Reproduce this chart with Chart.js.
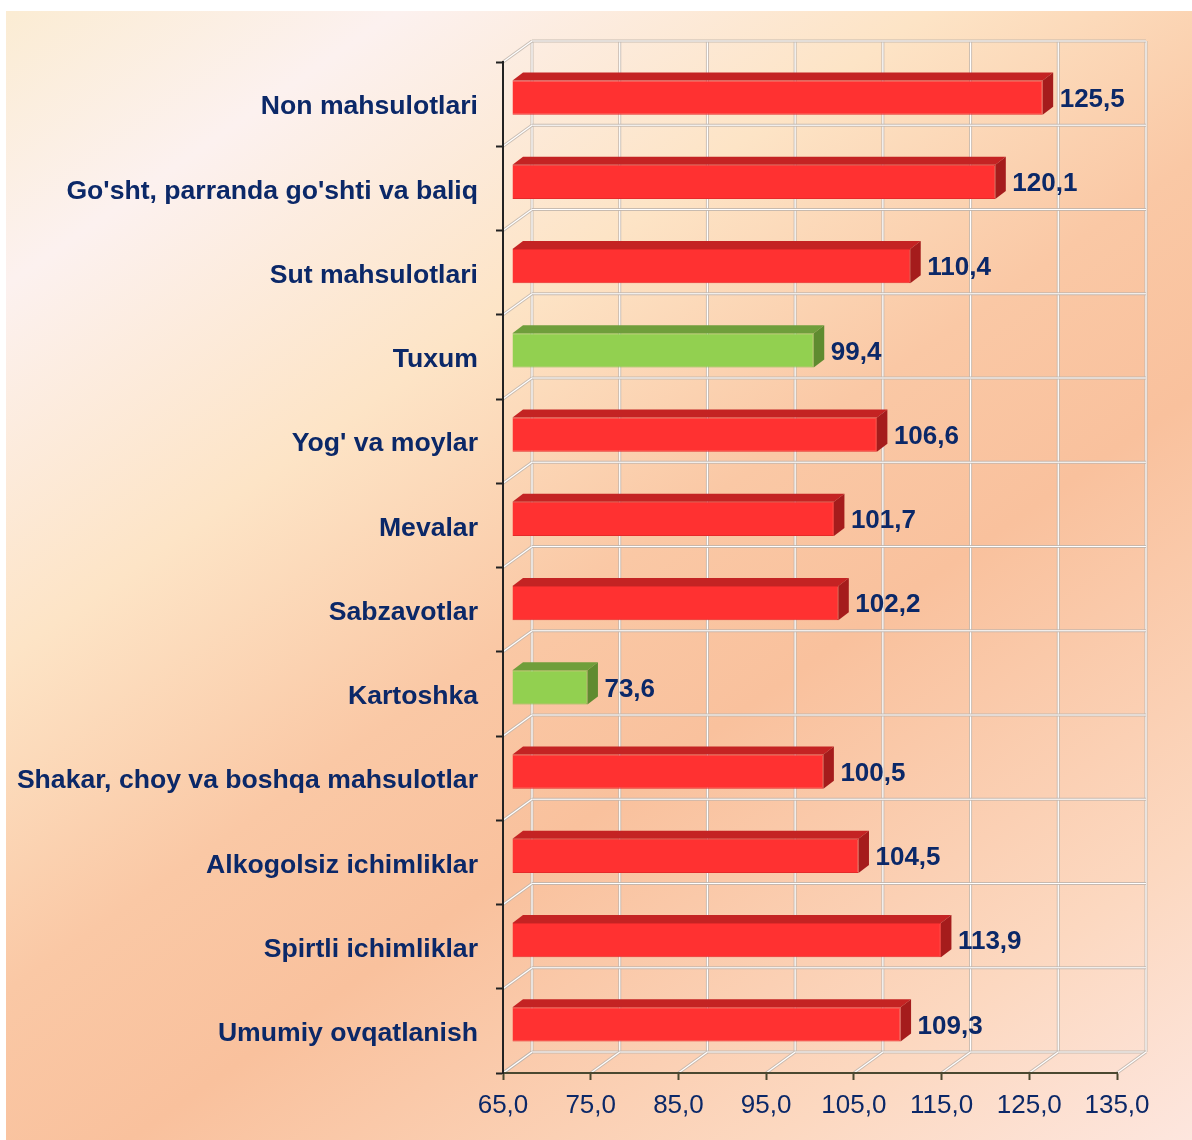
<!DOCTYPE html>
<html><head><meta charset="utf-8">
<script src="https://cdn.jsdelivr.net/npm/chart.js@4.4.0/dist/chart.umd.min.js"></script>
<style>html,body{margin:0;padding:0;background:#fff;}#wrap{width:1192px;height:1140px;position:relative;}canvas{display:block;}</style>
</head><body><div id="wrap"><canvas id="c" width="1192" height="1140" style="width:1192px;height:1140px"></canvas></div>
<script>
const categories = ["Non mahsulotlari","Go'sht, parranda go'shti va baliq","Sut mahsulotlari","Tuxum","Yog' va moylar","Mevalar","Sabzavotlar","Kartoshka","Shakar, choy va boshqa mahsulotlar","Alkogolsiz ichimliklar","Spirtli ichimliklar","Umumiy ovqatlanish"];
const values = [125.5,120.1,110.4,99.4,106.6,101.7,102.2,73.6,100.5,104.5,113.9,109.3];
const axisMin = 65, axisMax = 135, axisStep = 10;
const threshold = 100;

const NAVY = '#0b2868';
const FONT = "'Liberation Sans', Arial, sans-serif";
const FRONT = {dx: 9, dy: -6.5};
const BAR_DEPTH = {dx: 10.5, dy: -8};
const WALL = {dx: 29, dy: -21};
const RED = {front: '#ff3131', top: '#c42323', side: '#a51c1c', border: '#e52a2a'};
const GREEN = {front: '#92d050', top: '#6f9e3b', side: '#5f8b30', border: '#80bb45'};
const pal = v => v < threshold ? GREEN : RED;
const fmt = v => Number(v).toFixed(1).replace('.', ',');

function gridLine(ctx, x1, y1, x2, y2) {
  ctx.beginPath(); ctx.moveTo(x1, y1); ctx.lineTo(x2, y2);
  ctx.strokeStyle = 'rgba(190,180,172,0.85)'; ctx.lineWidth = 3; ctx.stroke();
  ctx.beginPath(); ctx.moveTo(x1, y1); ctx.lineTo(x2, y2);
  ctx.strokeStyle = '#ffffff'; ctx.lineWidth = 1.2; ctx.stroke();
}

const plugin3d = {
  id: 'plugin3d',
  beforeDraw(chart) {
    const ctx = chart.ctx, W = chart.width, H = chart.height;
    ctx.save();
    ctx.fillStyle = '#ffffff'; ctx.fillRect(0, 0, W, H);
    const x0 = 6, y0 = 11, bw = W - x0, bh = H - y0;
    const th = 55 * Math.PI / 180;
    const L = bw * Math.cos(th) + bh * Math.sin(th);
    const g = ctx.createLinearGradient(x0, y0, x0 + L * Math.cos(th), y0 + L * Math.sin(th));
    g.addColorStop(0, '#fbecd3');
    g.addColorStop(0.14, '#fcf1ef');
    g.addColorStop(0.33, '#fde4c6');
    g.addColorStop(0.5, '#fac8a5');
    g.addColorStop(0.62, '#f9c19d');
    g.addColorStop(0.85, '#fcd8c0');
    g.addColorStop(1, '#fde6de');
    ctx.fillStyle = g; ctx.fillRect(x0, y0, bw, bh);

    const xs = chart.scales.x, ys = chart.scales.y, a = chart.chartArea;
    const tickX = xs.ticks.map(t => xs.getPixelForValue(t.value));
    const n = categories.length, step = (a.bottom - a.top) / n;
    const bounds = [];
    for (let i = 0; i <= n; i++) bounds.push(ys.getPixelForValue(i) - step / 2);
    tickX.forEach(x => gridLine(ctx, x + WALL.dx, a.top + WALL.dy, x + WALL.dx, a.bottom + WALL.dy));
    bounds.forEach(b => gridLine(ctx, a.left + WALL.dx, b + WALL.dy, a.right + WALL.dx, b + WALL.dy));
    tickX.forEach(x => gridLine(ctx, x, a.bottom, x + WALL.dx, a.bottom + WALL.dy));
    bounds.forEach(b => gridLine(ctx, a.left, b, a.left + WALL.dx, b + WALL.dy));
    ctx.restore();
  },
  beforeDatasetsDraw(chart) {
    chart.ctx.save();
    chart.ctx.translate(FRONT.dx, FRONT.dy);
  },
  afterDatasetsDraw(chart) {
    const ctx = chart.ctx;
    const meta = chart.getDatasetMeta(0);
    meta.data.forEach((bar, i) => {
      const p = bar.getProps(['x', 'y', 'base', 'height'], true);
      const c = pal(values[i]);
      const t = p.y - p.height / 2, b = p.y + p.height / 2;
      ctx.beginPath();
      ctx.moveTo(p.base, t); ctx.lineTo(p.base + BAR_DEPTH.dx, t + BAR_DEPTH.dy);
      ctx.lineTo(p.x + BAR_DEPTH.dx, t + BAR_DEPTH.dy); ctx.lineTo(p.x, t); ctx.closePath();
      ctx.fillStyle = c.top; ctx.fill();
      ctx.beginPath();
      ctx.moveTo(p.x, t); ctx.lineTo(p.x + BAR_DEPTH.dx, t + BAR_DEPTH.dy);
      ctx.lineTo(p.x + BAR_DEPTH.dx, b + BAR_DEPTH.dy); ctx.lineTo(p.x, b); ctx.closePath();
      ctx.fillStyle = c.side; ctx.fill();
    });
    ctx.restore();
    ctx.save();
    ctx.font = 'bold 26px ' + FONT;
    ctx.fillStyle = NAVY; ctx.textAlign = 'left'; ctx.textBaseline = 'middle';
    meta.data.forEach((bar, i) => {
      const p = bar.getProps(['x', 'y'], true);
      ctx.fillText(fmt(values[i]), p.x + FRONT.dx + 17, p.y + FRONT.dy + 2);
    });
    ctx.restore();
  }
};

new Chart(document.getElementById('c'), {
  type: 'bar',
  data: {
    labels: categories,
    datasets: [{
      data: values,
      base: axisMin,
      backgroundColor: values.map(v => pal(v).front),
      borderColor: values.map(v => pal(v).border),
      borderWidth: 1,
      categoryPercentage: 1,
      barPercentage: 0.405,
      clip: false
    }]
  },
  options: {
    indexAxis: 'y',
    responsive: false,
    animation: false,
    devicePixelRatio: 1,
    layout: {padding: {top: 62, right: 75, left: 0, bottom: 0}},
    plugins: {legend: {display: false}, tooltip: {enabled: false}},
    scales: {
      x: {
        min: axisMin, max: axisMax,
        afterFit: s => { s.height = 67; },
        ticks: {stepSize: axisStep, autoSkip: false, maxRotation: 0, padding: 10,
          color: NAVY, font: {family: FONT, size: 26}, callback: v => fmt(v)},
        grid: {drawOnChartArea: false, tickLength: 7, tickColor: '#4a4830', tickWidth: 2},
        border: {color: '#4a4830', width: 2}
      },
      y: {
        afterFit: s => { s.width = 503; },
        ticks: {padding: 18, labelOffset: 3, color: NAVY, font: {family: FONT, size: 26.6, weight: 'bold'}},
        grid: {drawOnChartArea: false, tickLength: 7, tickColor: '#222222', tickWidth: 2, offset: true},
        border: {color: '#222222', width: 2}
      }
    }
  },
  plugins: [plugin3d]
});
</script>
</body></html>
